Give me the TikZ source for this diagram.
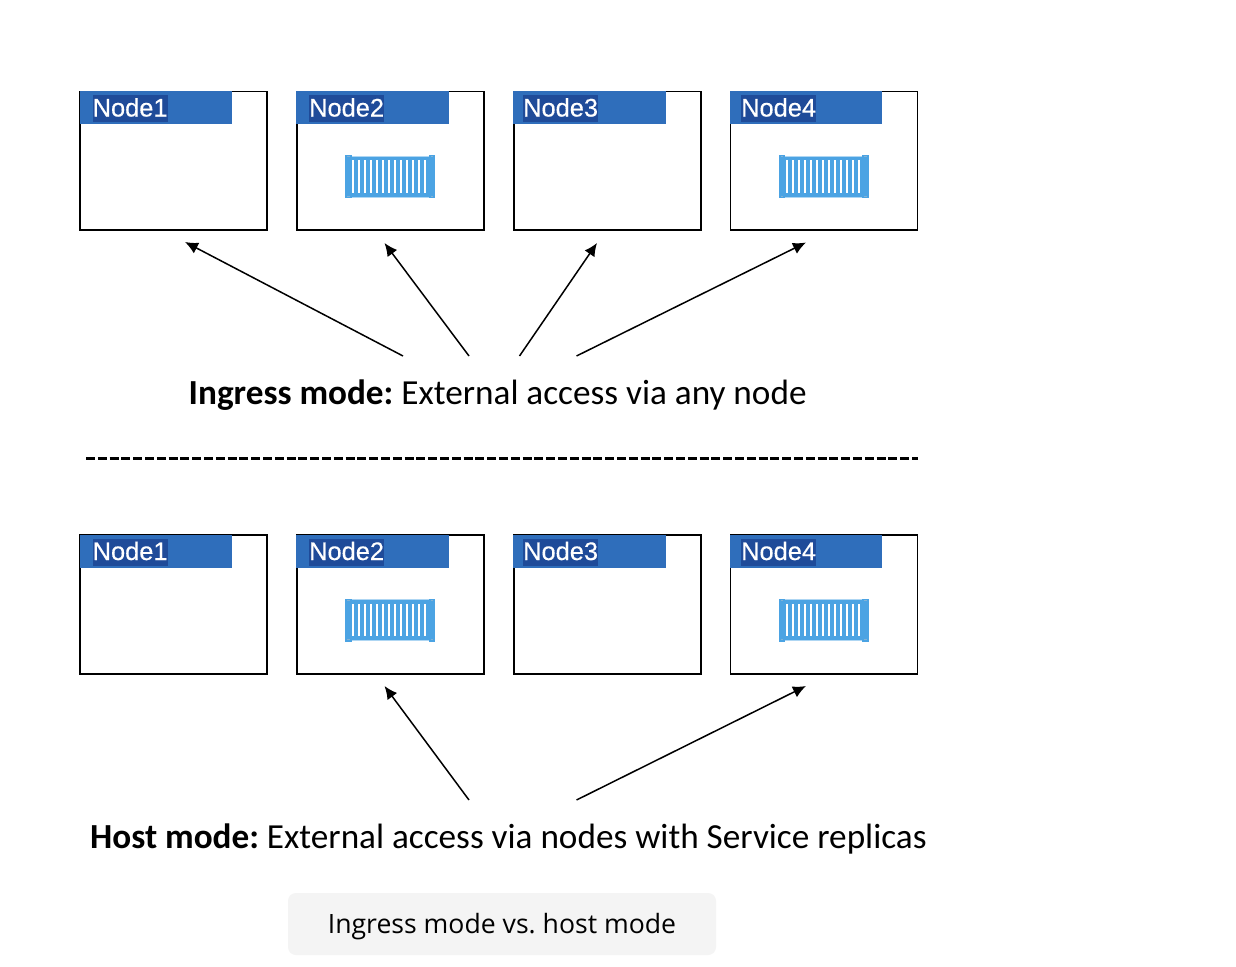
\documentclass[tikz,border=0pt]{standalone}
\usepackage{fontspec}
\setmainfont{Carlito}
\newfontfamily\labelfont[FakeBold=0.3]{Liberation Sans}
\newfontfamily\capfont{Open Sans}
\usetikzlibrary{arrows.meta}
\definecolor{barblue}{HTML}{2F6EBB}
\definecolor{selblue}{HTML}{1F4B99}
\definecolor{boxblue}{HTML}{4BA3E3}
\definecolor{capbg}{HTML}{F4F4F4}
\tikzset{
  x=1pt,y=-1pt,
  nodebox/.style={draw=black,line width=1.9pt,fill=white,minimum width=187pt,minimum height=138.6pt,anchor=north west,inner sep=0pt,outer sep=0pt},
  nodebar/.style={fill=barblue,minimum width=152.5pt,minimum height=33pt,anchor=north west,inner sep=0pt},
  nodelabel/.style={fill=selblue,text=white,font=\labelfont\fontsize{25.4}{26}\selectfont,inner sep=0pt,text height=21.5pt,text depth=5.5pt,anchor=west},
  arrowline/.style={draw=black,line width=1.5pt,-{Latex[length=13pt,width=12pt]}},
  headline/.style={font=\fontsize{35.2}{38}\selectfont,text=black,inner sep=0pt,anchor=base west},
  sepline/.style={draw=black,line width=3pt,dash pattern=on 9pt off 2.8pt},
  capbox/.style={fill=capbg,rounded corners=8pt,minimum width=428pt,minimum height=62pt,inner sep=0pt},
  captext/.style={font=\capfont\fontsize{26.6}{30}\selectfont,text=black,inner sep=0pt},
  pics/shipbox/.style={code={
    \fill[boxblue] (-45,-20) rectangle (45,20);
    \fill[white!55!boxblue] (-40,-21) rectangle (40,-20);
    \fill[white!55!boxblue] (-40,20) rectangle (40,21);
    \foreach \sx in {-45,38.5}{\foreach \sy in {-21.5,18}{
      \fill[boxblue] (\sx,\sy) rectangle ++(6.5,3.5);
      \fill[white!30!boxblue!80!gray] ({\sx+2},{\sy+1.2}) rectangle ++(2.5,1.2);
    }}
    \foreach \i in {0,...,12}{
      \fill[white] ({-37.8+\i*6.01},-16.5) rectangle ({-35.8+\i*6.01},16.2);
    }
  }},
}
\begin{document}
\frenchspacing
\begin{tikzpicture}
\useasboundingbox (0,0) rectangle (1236,966);
\fill[white] (0,0) rectangle (1236,966);

% upper row
\node[nodebox] (a1) at (80,91.5) {};
\node[nodebox] (a2) at (297,91.5) {};
\node[nodebox] (a3) at (514,91.5) {};
\node[nodebox] (a4) at (730.5,91.5) {};
\node[nodebar] (ab1) at (79.5,91) {};
\node[nodebar] (ab2) at (296,91) {};
\node[nodebar] (ab3) at (513,91) {};
\node[nodebar] (ab4) at (729.5,91) {};
\node[nodelabel] (al1) at (92.5,108.5) {Node1};
\node[nodelabel] (al2) at (309,108.5) {Node2};
\node[nodelabel] (al3) at (523,108.5) {Node3};
\node[nodelabel] (al4) at (741,108.5) {Node4};
\pic at (390,176.5) {shipbox};
\pic at (823.5,176.5) {shipbox};

% upper arrows
\coordinate (as1) at (403,356);
\coordinate (as2) at (469,356);
\coordinate (as3) at (519.5,356);
\coordinate (as4) at (576.5,356);
\coordinate (at1) at (185,242);
\coordinate (at2) at (384.5,243);
\coordinate (at3) at (597,243);
\coordinate (at4) at (806,242.5);
\draw[arrowline] (as1) -- (at1);
\draw[arrowline] (as2) -- (at2);
\draw[arrowline] (as3) -- (at3);
\draw[arrowline] (as4) -- (at4);

\node[headline] (ingress) at (188.5,404.5) {\textbf{Ingress mode:} External access via any node};

% separator
\coordinate (sepl) at (86,458.5);
\coordinate (sepr) at (918,458.5);
\draw[sepline] (sepl) -- (sepr);

% lower row
\node[nodebox] (b1) at (80,535) {};
\node[nodebox] (b2) at (297,535) {};
\node[nodebox] (b3) at (514,535) {};
\node[nodebox] (b4) at (730.5,535) {};
\node[nodebar] (bb1) at (79.5,534.5) {};
\node[nodebar] (bb2) at (296,534.5) {};
\node[nodebar] (bb3) at (513,534.5) {};
\node[nodebar] (bb4) at (729.5,534.5) {};
\node[nodelabel] (bl1) at (92.5,552) {Node1};
\node[nodelabel] (bl2) at (309,552) {Node2};
\node[nodelabel] (bl3) at (523,552) {Node3};
\node[nodelabel] (bl4) at (741,552) {Node4};
\pic at (390,620) {shipbox};
\pic at (823.5,620) {shipbox};

% lower arrows
\coordinate (bs2) at (469,800);
\coordinate (bs4) at (576.5,800);
\coordinate (bt2) at (384.5,686);
\coordinate (bt4) at (806,686);
\draw[arrowline] (bs2) -- (bt2);
\draw[arrowline] (bs4) -- (bt4);

\node[headline] (host) at (90,848) {\textbf{Host mode:} External access via nodes with Service replicas};

\node[capbox] (cap) at (502,924) {};
\node[captext,anchor=base] (captxt) at (502,933) {Ingress mode vs. host mode};
\end{tikzpicture}
\end{document}
